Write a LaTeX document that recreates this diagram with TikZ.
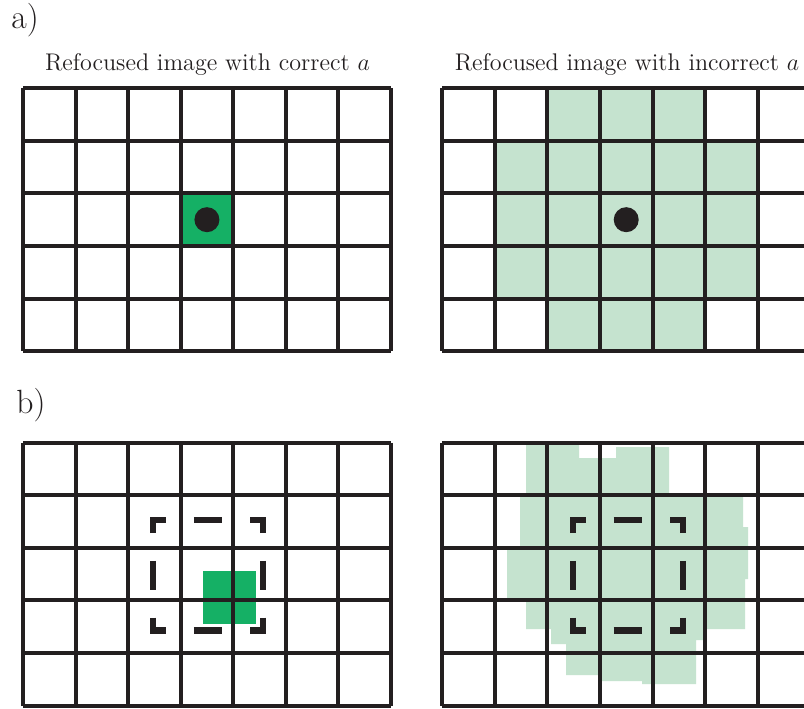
\documentclass[tikz,border=0pt]{standalone}
\definecolor{gk}{HTML}{231F20}
\definecolor{dg}{HTML}{15B065}
\definecolor{lg}{HTML}{C5E3CF}
\tikzset{
  gridline/.style={draw=gk, line width=2pt, line cap=square},
  markline/.style={draw=gk, line width=3.15pt, line cap=butt, line join=miter},
  caption/.style={anchor=base, inner sep=0pt, text=gk, font=\fontsize{12.05}{14}\selectfont},
  panellabel/.style={anchor=base west, inner sep=0pt, text=gk, font=\fontsize{16.8}{19}\selectfont},
}
\newcommand\cellsz{52.55}
\newcommand\gridat[2]{%
  \foreach \i in {0,...,7} \draw[gridline] ({#1+\i*\cellsz},{#2}) -- ({#1+\i*\cellsz},{#2+5*\cellsz});
  \foreach \j in {0,...,5} \draw[gridline] ({#1},{#2+\j*\cellsz}) -- ({#1+7*\cellsz},{#2+\j*\cellsz});
}
\newcommand\cellat[4]{% x0 col row colour
  \fill[#4] ({#1+#2*\cellsz},{88.3+#3*\cellsz}) rectangle ++(\cellsz,\cellsz);
}
\newcommand\marksat[2]{%
  \begin{scope}[shift={(#1,#2)}]
    \foreach \sx/\sy in {1/1,-1/1,1/-1,-1/-1}{
      \begin{scope}[xscale=\sx,yscale=\sy]
        \draw[markline] ({-58.2+3.15},{-58.2+16}) -- ({-58.2+3.15},{-58.2+3.15}) -- ({-58.2+16},{-58.2+3.15});
      \end{scope}
    }
    \draw[markline] (-14.3,{-58.2+3.15}) -- (14.3,{-58.2+3.15});
    \draw[markline] (-14.3,{58.2-3.15}) -- (14.3,{58.2-3.15});
    \draw[markline] ({-58.2+3.15},-14.5) -- ({-58.2+3.15},14.5);
    \draw[markline] ({58.2-3.15},-14.5) -- ({58.2-3.15},14.5);
  \end{scope}
}
\begin{document}
\begin{tikzpicture}[x=0.5pt,y=-0.5pt]
\useasboundingbox (0,0) rectangle (804,708);
\fill[white] (0,0) rectangle (804,708);

% labels
\node[panellabel] (la) at (11,28.3) {a)};
\node[panellabel] (lb) at (16,413.3) {b)};
\node[caption] (c1) at (207.5,70.7) {Refocused image with correct $a$};
\node[caption] (c2) at (627,70.7) {Refocused image with incorrect $a$};

% a) left
\cellat{23}{3}{2}{dg}
\gridat{23}{88.3}
\fill[gk] ({23+3.5*\cellsz},{88.3+2.5*\cellsz}) circle[radius=6.25pt];

% a) right
\foreach \c/\r in {2/0,3/0,4/0,1/1,2/1,3/1,4/1,5/1,1/2,2/2,3/2,4/2,5/2,1/3,2/3,3/3,4/3,5/3,2/4,3/4,4/4}{
  \cellat{442.3}{\c}{\r}{lg}
}
\gridat{442.3}{88.3}
\fill[gk] ({442.3+3.5*\cellsz},{88.3+2.5*\cellsz}) circle[radius=6.25pt];

% b) left
\fill[dg] (203.3,571) rectangle (255.8,624);
\gridat{23}{442.8}
\marksat{208.1}{575.3}

% b) right
\fill[lg] (526,443) -- (579,443) -- (579,458) -- (616,458) -- (616,447) -- (669,447)
  -- (669,496) -- (743,496) -- (743,527) -- (748,527) -- (748,579) -- (745,579)
  -- (745,629) -- (705,629) -- (705,640) -- (696,640) -- (696,684) -- (642,684)
  -- (642,681) -- (602,681) -- (602,675) -- (566,675) -- (566,644) -- (551,644)
  -- (551,629) -- (526,629) -- (526,599) -- (507,599) -- (507,546) -- (520,546)
  -- (520,496) -- (526,496) -- cycle;
\gridat{442.3}{442.8}
\marksat{628}{575.3}
\end{tikzpicture}
\end{document}
